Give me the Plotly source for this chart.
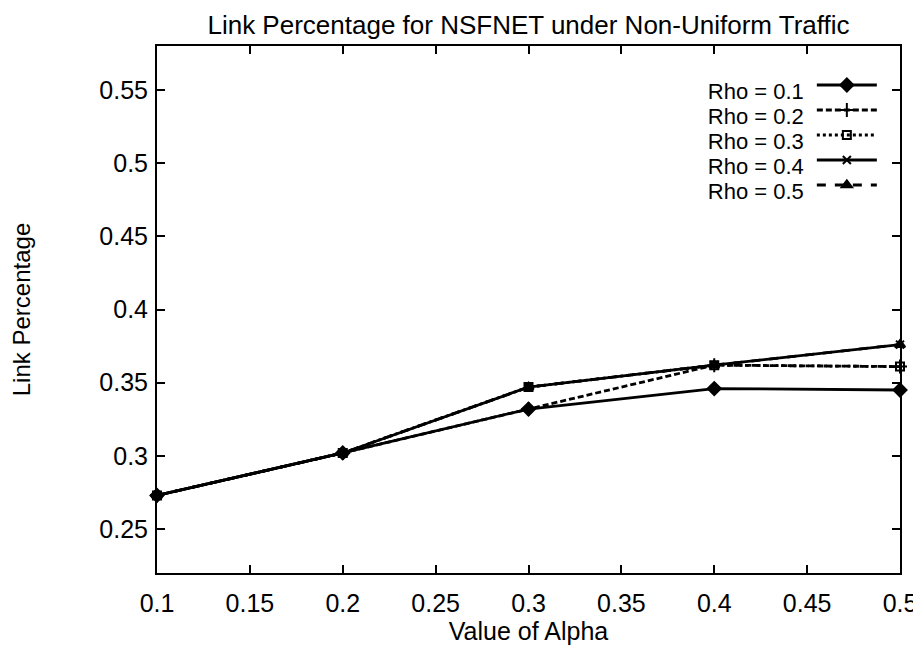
import plotly.graph_objects as go

# ---- data ----
alpha = [0.1, 0.2, 0.3, 0.4, 0.5]
rho_01 = [0.273, 0.302, 0.332, 0.346, 0.345]
rho_02 = [0.273, 0.302, 0.332, 0.362, 0.361]
rho_03 = [0.273, 0.302, 0.347, 0.362, 0.361]
rho_04 = [0.273, 0.302, 0.347, 0.362, 0.376]
rho_05 = [0.273, 0.302, 0.347, 0.362, 0.376]
series_names = ["Rho = 0.1", "Rho = 0.2", "Rho = 0.3", "Rho = 0.4", "Rho = 0.5"]

x_ticks = [0.1, 0.15, 0.2, 0.25, 0.3, 0.35, 0.4, 0.45, 0.5]
x_ticktext = ["0.1", "0.15", "0.2", "0.25", "0.3", "0.35", "0.4", "0.45", "0.5"]
y_ticks = [0.25, 0.3, 0.35, 0.4, 0.45, 0.5, 0.55]
y_ticktext = ["0.25", "0.3", "0.35", "0.4", "0.45", "0.5", "0.55"]

FONT = "Liberation Sans, Arial, Helvetica, sans-serif"

styles = [
    dict(dash="solid", symbol="diamond", size=10),
    dict(dash="6px,3px", symbol="cross-thin", size=10),
    dict(dash="dot", symbol="square-open", size=8),
    dict(dash="solid", symbol="x-thin", size=8),
    dict(dash="dash", symbol="triangle-up", size=9),
]
values = [rho_01, rho_02, rho_03, rho_04, rho_05]

ML, MR, MT, MB = 148, 23, 38, 92
W, H = 921, 657
plot_w = W - ML - MR
plot_h = H - MT - MB

fig = go.Figure()
legend_layouts = {}
row_px = [82, 107, 132, 157, 182]
for i, (name, vals, st) in enumerate(zip(series_names, values, styles)):
    lg = "legend" if i == 0 else f"legend{i+1}"
    fig.add_trace(go.Scatter(
        x=alpha, y=vals, mode="lines+markers", name=" ",
        legend=lg, cliponaxis=False,
        hovertemplate=name + "<br>alpha=%{x}<br>%{y}<extra></extra>",
        line=dict(color="black", width=2.8, dash=st["dash"]),
        marker=dict(symbol=st["symbol"], size=st["size"], color="black",
                    line=dict(color="black", width=2)),
    ))
    legend_layouts[lg] = dict(
        title=dict(text=name, side="left",
                   font=dict(family=FONT, size=22, color="black")),
        x=(702 - ML) / plot_w, xanchor="left",
        y=(H - MB - row_px[i]) / plot_h, yanchor="middle",
        bgcolor="rgba(0,0,0,0)", borderwidth=0,
        font=dict(family=FONT, size=8, color="black"),
        itemwidth=60, tracegroupgap=0,
    )

axis_common = dict(
    showline=True, linecolor="black", linewidth=2, mirror="ticks",
    ticks="inside", ticklen=8, tickwidth=2, tickcolor="black",
    showgrid=False, zeroline=False,
    tickfont=dict(family=FONT, size=25, color="black"),
)

fig.update_layout(
    width=W, height=H,
    margin=dict(l=ML, r=MR, t=MT, b=MB),
    paper_bgcolor="white", plot_bgcolor="white",
    font=dict(family=FONT, color="black"),
    title=dict(text="Link Percentage for NSFNET under Non-Uniform Traffic",
               x=0.5, xref="paper", xanchor="center",
               y=1 - 16.5 / H, yref="container", yanchor="middle",
               font=dict(family=FONT, size=26, color="black")),
    xaxis=dict(range=[0.1, 0.5], tickvals=x_ticks, ticktext=x_ticktext,
               title=dict(text="Value of Alpha", standoff=0,
                          font=dict(family=FONT, size=25, color="black")),
               ticklabelstandoff=7, **axis_common),
    yaxis=dict(range=[0.22, 0.58], tickvals=y_ticks, ticktext=y_ticktext,
               title=dict(text="Link Percentage", standoff=63,
                          font=dict(family=FONT, size=24, color="black")),
               ticklabelstandoff=2, **axis_common),
    showlegend=True,
    **legend_layouts,
)

fig.write_html("out.html")
